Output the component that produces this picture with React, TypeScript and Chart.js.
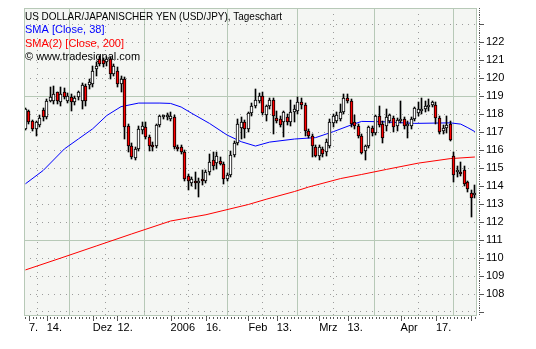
import React, { useEffect, useRef } from "react";
import { Chart, registerables } from "chart.js";

Chart.register(...registerables);

// ---- Data (USD/JPY daily, trading-day index 0 = 4 Nov 2005) ----
const opens = [
  117.19, 118.2, 117.65, 117.19, 117.41, 118.26, 117.83, 118.76, 118.76, 119.22,
  118.67, 119.22, 118.76, 118.94, 118.67, 118.94, 118.76, 119.59, 119.63, 119.69,
  120.52, 121.07, 121.02, 120.89, 121.07, 120.24, 120.43, 119.69, 119.96, 117.33,
  116.26, 115.56, 116.07, 117.15, 117.28, 116.72, 116.3, 116.26, 117.41, 117.83,
  117.83, 117.74, 117.83, 116.2, 116.17, 115.89, 114.59, 114.19, 114.31, 114.19,
  114.41, 114.31, 114.81, 115.48, 115.3, 115.41, 115.24, 114.41, 114.63, 115.74,
  116.41, 117.22, 117.56, 117.19, 118.07, 118.48, 118.76, 119.0, 117.93, 118.48,
  118.8, 117.78, 117.74, 117.56, 117.83, 117.56, 118.11, 118.2, 118.7, 118.52,
  117.09, 116.78, 116.17, 115.7, 116.07, 115.89, 116.26, 117.52, 117.65, 117.74,
  118.15, 118.89, 118.76, 117.56, 117.33, 116.78, 115.93, 116.22, 117.22, 116.94,
  117.89, 117.46, 117.33, 117.65, 117.78, 117.33, 117.65, 117.74, 117.33, 117.33,
  117.74, 118.07, 118.2, 118.3, 118.39, 118.52, 118.52, 117.78, 117.04, 117.22,
  117.46, 115.67, 114.78, 114.81, 114.87, 114.22, 113.63, 113.48,
];
const highs = [
  118.35, 118.25, 117.7, 117.6, 117.93, 118.35, 118.85, 119.5, 119.59, 119.26,
  119.5, 119.45, 119.2, 119.1, 119.0, 119.3, 119.75, 119.7, 119.96, 120.7,
  120.9, 121.26, 121.15, 121.2, 121.2, 120.8, 120.6, 120.15, 120.05, 117.45,
  116.4, 116.2, 117.37, 117.56, 117.56, 116.85, 116.45, 117.46, 117.96, 117.96,
  118.07, 118.11, 117.95, 116.3, 116.3, 116.0, 114.7, 114.5, 114.78, 114.45,
  114.87, 114.9, 115.8, 115.89, 115.89, 115.6, 115.35, 114.75, 115.98, 116.5,
  117.74, 117.83, 117.7, 118.15, 118.6, 119.41, 119.19, 119.22, 118.5, 118.89,
  118.9, 118.2, 117.9, 118.2, 118.0, 118.81, 118.5, 118.94, 118.9, 118.6,
  117.2, 116.9, 116.3, 116.3, 116.2, 116.6, 117.74, 118.02, 118.1, 118.57,
  119.13, 119.13, 118.85, 117.93, 117.45, 116.9, 116.3, 117.33, 117.35, 117.96,
  118.44, 117.6, 118.3, 118.0, 117.9, 117.8, 118.76, 117.85, 117.6, 117.85,
  118.4, 118.67, 118.89, 118.76, 118.85, 118.76, 118.7, 117.9, 117.4, 117.89,
  117.6, 115.89, 115.1, 115.37, 115.1, 114.3, 113.8, 114.04,
];
const lows = [
  117.1, 117.46, 117.04, 116.81, 117.3, 117.65, 117.75, 118.67, 118.57, 118.57,
  118.48, 118.85, 118.6, 118.2, 118.5, 118.8, 118.3, 118.45, 119.4, 119.5,
  120.15, 120.7, 120.65, 120.7, 119.96, 120.1, 119.5, 119.22, 116.63, 115.89,
  115.5, 115.45, 115.95, 116.91, 116.63, 115.98, 115.94, 116.1, 117.3, 117.74,
  117.7, 117.65, 116.07, 115.95, 115.8, 114.31, 113.76, 114.0, 113.85, 113.39,
  114.04, 114.2, 114.6, 114.87, 114.96, 115.15, 114.13, 114.3, 114.5, 115.6,
  116.3, 116.63, 116.67, 117.0, 117.9, 118.35, 118.6, 117.95, 117.65, 118.3,
  116.91, 117.5, 117.3, 116.72, 117.4, 117.35, 117.56, 118.0, 118.3, 116.78,
  116.7, 115.61, 115.61, 115.43, 115.6, 115.7, 116.1, 117.3, 117.5, 117.6,
  118.0, 118.6, 117.3, 117.2, 116.65, 115.8, 115.48, 116.1, 116.8, 116.85,
  117.3, 116.41, 117.09, 117.5, 117.0, 117.09, 117.5, 117.2, 116.67, 117.2,
  117.6, 117.9, 118.0, 118.1, 118.2, 118.4, 117.46, 116.9, 116.9, 116.96,
  116.5, 114.22, 114.5, 114.55, 114.0, 113.7, 112.31, 113.35,
];
const closes = [
  118.3, 117.56, 117.19, 117.56, 117.8, 117.83, 118.76, 118.94, 119.13, 118.76,
  119.13, 118.94, 119.04, 118.7, 118.89, 119.22, 119.63, 118.76, 119.81, 120.43,
  120.7, 120.8, 120.8, 121.07, 120.24, 120.7, 119.69, 119.96, 117.28, 116.26,
  115.61, 116.07, 117.19, 117.33, 116.72, 116.22, 116.17, 117.41, 117.89, 117.93,
  117.93, 117.89, 116.17, 116.04, 115.89, 114.41, 114.26, 114.37, 114.19, 114.31,
  114.26, 114.81, 115.33, 115.11, 115.67, 115.24, 114.41, 114.63, 115.74, 116.41,
  117.46, 117.59, 117.19, 118.07, 118.48, 118.81, 119.0, 118.07, 118.44, 118.8,
  117.89, 117.65, 117.41, 118.15, 117.56, 118.15, 118.3, 118.7, 118.52, 117.09,
  116.81, 116.22, 115.7, 116.17, 115.8, 116.44, 117.56, 117.89, 117.93, 118.15,
  118.89, 118.76, 117.46, 117.33, 116.78, 115.85, 116.22, 117.28, 116.94, 117.89,
  117.41, 116.67, 117.87, 117.93, 117.28, 117.69, 117.74, 117.33, 117.46, 117.74,
  118.33, 118.3, 118.3, 118.48, 118.52, 118.7, 117.78, 117.0, 117.22, 117.41,
  116.54, 114.63, 114.85, 114.69, 114.13, 113.85, 113.33, 113.63,
];

const sma38Idx = [0, 5, 11, 15, 19, 23, 27, 32, 38, 41, 44, 47, 52, 57, 61, 65, 69, 76, 82, 87, 92, 95, 101, 110, 120, 123, 125, 127];
const sma38Val = [114.13, 114.87, 116.07, 116.63, 117.19, 117.93, 118.42, 118.62, 118.62, 118.6, 118.4, 118.05, 117.49, 116.84, 116.47, 116.23, 116.45, 116.62, 116.7, 117.03, 117.4, 117.6, 117.58, 117.49, 117.52, 117.45, 117.25, 117.03];
const sma200Idx = [0, 10, 20, 30, 41, 51, 63, 68, 76, 80, 89, 95, 102, 111, 120, 127];
const sma200Val = [109.34, 110.0, 110.67, 111.34, 112.06, 112.41, 112.98, 113.27, 113.7, 113.95, 114.42, 114.65, 114.93, 115.28, 115.53, 115.62];

// Axis ticks
const xTickIdx = [1, 6, 19, 26, 41, 51, 63, 71, 83, 91, 106, 116, 126];
const xTickLabels = ["7.", "14.", "Dez", "12.", "2006", "16.", "Feb", "13.", "Mrz", "13.", "Apr", "17.", ""];
const monthStartIdx = [19, 41, 63, 83, 106, 126];
const yTickVals = [107, 108, 109, 110, 111, 112, 113, 114, 115, 116, 117, 118, 119, 120, 121, 122, 123];
const yLabelVals = [108, 109, 110, 111, 112, 113, 114, 115, 116, 117, 118, 119, 120, 121, 122];
const ySolidVals = [111, 119];

const headerLines = [
  "US DOLLAR/JAPANISCHER YEN (USD/JPY), Tageschart",
  "SMA [Close, 38]",
  "SMA(2) [Close, 200]",
  "\u00A9 www.tradesignal.com",
];
const headerColors = ["#000000", "#0000ff", "#ff0000", "#000000"];

const FONT_FAMILY = "'Liberation Sans', Arial, sans-serif";
const PLOT_BG = "#f4f6f3";
const GRID_SOLID = "#b7c9b7";
const GRID_DOT = "#9c9c9c";

const decorPlugin = {
  id: "decor",
  beforeDraw(chart: any) {
    const { ctx, chartArea: a, width, height } = chart;
    ctx.save();
    ctx.fillStyle = "#ffffff";
    ctx.fillRect(0, 0, width, height);
    ctx.fillStyle = PLOT_BG;
    ctx.fillRect(a.left, a.top, a.right - a.left, a.bottom - a.top);
    ctx.restore();
  },
  beforeDatasetsDraw(chart: any) {
    const { ctx, chartArea: a } = chart;
    // snap candle elements (positions computed by the scales) to whole pixels
    chart.data.datasets.forEach((ds: any, di: number) => {
      if (ds.type !== "bar") return;
      const meta = chart.getDatasetMeta(di);
      meta.data.forEach((el: any) => {
        el.x = Math.floor(el.x) + 0.5;
        el.y = Math.round(el.y);
        el.base = Math.round(el.base);
      });
    });
    ctx.save();
    ctx.font = `11px ${FONT_FAMILY}`;
    ctx.textBaseline = "alphabetic";
    ctx.textAlign = "left";
    headerLines.forEach((t, k) => {
      ctx.fillStyle = headerColors[k];
      const y = a.top + 12 + k * 13.4;
      if (k === 0) ctx.fillText(t, a.left + 1, y, 257);
      else ctx.fillText(t, a.left + 1, y);
    });
    ctx.restore();
  },
  afterDraw(chart: any) {
    const { ctx, chartArea: a, scales } = chart;
    const xs = scales.x;
    const ys = scales.y;
    ctx.save();
    ctx.strokeStyle = GRID_SOLID;
    ctx.lineWidth = 1;
    ctx.strokeRect(a.left + 0.5, a.top + 0.5, a.right - a.left - 1, a.bottom - a.top);
    ctx.fillStyle = "#555555";
    // bottom ruler: one mark per trading day, longer marks at labelled ticks
    for (let i = 0; i < opens.length; i++) {
      const x = Math.round(xs.getPixelForValue(i));
      ctx.fillRect(x, a.bottom + 2, 1, 2);
    }
    xTickIdx.forEach((v) => {
      const x = Math.round(xs.getPixelForValue(v));
      ctx.fillRect(x, a.bottom + 1, 1, 5);
    });
    // right ruler: fine marks every 0.1, dash at every integer
    for (let k = Math.ceil(ys.min * 10); k <= Math.floor(ys.max * 10); k++) {
      const y = Math.round(ys.getPixelForValue(k / 10));
      ctx.fillRect(a.right + 2, y, 1, 1);
      if (k % 10 === 0) ctx.fillRect(a.right + 2, y, 5, 1);
    }
    ctx.restore();
  },
};

export default function App() {
  const ref = useRef<HTMLCanvasElement | null>(null);

  useEffect(() => {
    const canvas = ref.current;
    if (!canvas) return;
    const font = { family: FONT_FAMILY, size: 11 };
    const chart = new Chart(canvas, {
      type: "bar",
      data: {
        datasets: [
          {
            type: "line",
            data: sma200Idx.map((x, k) => ({ x, y: sma200Val[k] })),
            borderColor: "#ff0000",
            borderWidth: 1,
            pointRadius: 0,
            tension: 0,
            order: 4,
          } as any,
          {
            type: "line",
            data: sma38Idx.map((x, k) => ({ x, y: sma38Val[k] })),
            borderColor: "#0000ff",
            borderWidth: 1,
            pointRadius: 0,
            tension: 0,
            order: 3,
          } as any,
          {
            type: "bar",
            data: opens.map((_, i) => ({ x: i, y: [lows[i], highs[i]] })),
            backgroundColor: "#000000",
            borderWidth: 0,
            barThickness: 1,
            grouped: false,
            order: 2,
          } as any,
          {
            type: "bar",
            data: opens.map((o, i) => ({ x: i, y: [o, closes[i]] })),
            backgroundColor: opens.map((o, i) => (closes[i] >= o ? "#ffffff" : "#ff0000")),
            borderColor: "#000000",
            borderWidth: 1,
            borderSkipped: false,
            barThickness: 3,
            minBarLength: 2,
            grouped: false,
            order: 1,
          } as any,
        ],
      },
      options: {
        responsive: false,
        animation: false,
        devicePixelRatio: 1,
        layout: { padding: { left: 24, top: 8, right: 0, bottom: 0 } },
        plugins: {
          legend: { display: false },
          tooltip: { enabled: false },
          title: { display: false },
        },
        scales: {
          x: {
            type: "linear",
            min: -0.41,
            max: 127.59,
            offset: false,
            afterBuildTicks: (s: any) => {
              s.ticks = xTickIdx.map((v) => ({ value: v }));
            },
            afterFit: (s: any) => {
              s.height = 34;
              s.paddingLeft = 0;
              s.paddingRight = 0;
            },
            ticks: {
              autoSkip: false,
              maxRotation: 0,
              minRotation: 0,
              align: "start",
              padding: 6,
              color: "#000000",
              font,
              callback: (_v: any, i: number) => xTickLabels[i] ?? "",
            },
            grid: {
              drawTicks: false,
              lineWidth: 1,
              color: (c: any) => (c.tick && monthStartIdx.includes(c.tick.value) ? GRID_SOLID : GRID_DOT),
            },
            border: {
              display: false,
              dash: (c: any) => (c.tick && monthStartIdx.includes(c.tick.value) ? [] : [1, 5]),
            },
          },
          y: {
            type: "linear",
            position: "right",
            min: 106.833,
            max: 123.908,
            afterBuildTicks: (s: any) => {
              s.ticks = yTickVals.map((v) => ({ value: v }));
            },
            afterFit: (s: any) => {
              s.width = 59;
              s.paddingTop = 0;
              s.paddingBottom = 0;
            },
            ticks: {
              padding: 9,
              color: "#000000",
              font,
              callback: (v: any) => (yLabelVals.includes(v) ? String(v) : ""),
            },
            grid: {
              drawTicks: false,
              lineWidth: 1,
              color: (c: any) => (c.tick && ySolidVals.includes(c.tick.value) ? GRID_SOLID : GRID_DOT),
            },
            border: {
              display: false,
              dash: (c: any) => (c.tick && ySolidVals.includes(c.tick.value) ? [] : [1, 5]),
            },
          },
        },
      } as any,
      plugins: [decorPlugin],
    });
    return () => chart.destroy();
  }, []);

  return (
    <div style={{ position: "absolute", left: 0, top: 0, width: 536, height: 349, background: "#ffffff" }}>
      <canvas ref={ref} width={536} height={349} style={{ display: "block" }} />
    </div>
  );
}
